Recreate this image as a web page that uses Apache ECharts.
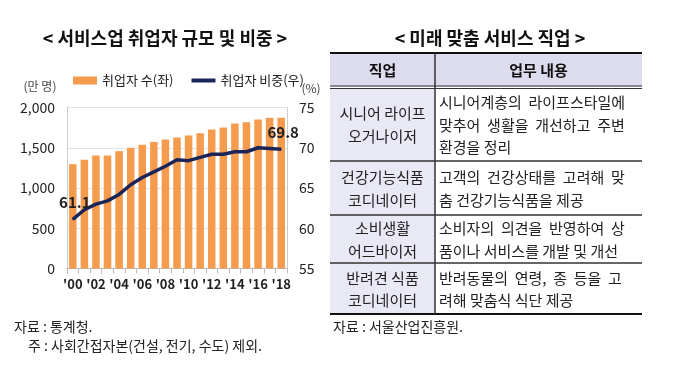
<!DOCTYPE html>
<html><head><meta charset="utf-8">
<script src="https://cdn.jsdelivr.net/npm/echarts@6/dist/echarts.min.js"></script>
<style>html,body{margin:0;padding:0;background:#fff}#c{width:680px;height:368px}</style>
</head><body><div id="c"></div>
<script>
const years = ["'00","'01","'02","'03","'04","'05","'06","'07","'08","'09","'10","'11","'12","'13","'14","'15","'16","'17","'18"];
const employed = [1296,1350,1404,1404,1458,1499,1536,1573,1602,1627,1652,1681,1727,1752,1801,1818,1851,1872,1872];
const share = [61.1,62.3,63.0,63.4,64.2,65.4,66.3,67.0,67.7,68.5,68.4,68.8,69.2,69.2,69.5,69.5,70.0,69.9,69.8];
const leftTicks = [0,500,1000,1500,2000];
const rightTicks = [55,60,65,70,75];

const tableHeader = ["직업","업무 내용"];
const tableJobs = [["시니어 라이프","오거나이저"],["건강기능식품","코디네이터"],["소비생활","어드바이저"],["반려견 식품","코디네이터"]];
const tableDesc = [["시니어계층의  라이프스타일에","맞추어  생활을  개선하고  주변","환경을 정리"],["고객의  건강상태를  고려해  맞","춤 건강기능식품을 제공"],["소비자의  의견을  반영하여  상","품이나 서비스를 개발 및 개선"],["반려동물의  연령,  종  등을  고","려해 맞춤식 식단 제공"]];

const F = '"Noto Sans CJK KR", "Noto Sans", sans-serif';
const chart = echarts.init(document.getElementById('c'));

const tx0 = 330, tx1 = 642, tdiv = 435;
const rowEdges = [53, 87, 161, 215, 263, 314];
const g = [];
g.push({type:'text', x:165, y:38, style:{text:'< 서비스업 취업자 규모 및 비중 >', font:'bold 18px '+F, fill:'#111', align:'center', verticalAlign:'middle'}});
g.push({type:'text', x:490, y:38, style:{text:'< 미래 맞춤 서비스 직업 >', font:'bold 18px '+F, fill:'#111', align:'center', verticalAlign:'middle'}});
g.push({type:'text', x:40, y:86, style:{text:'(만 명)', font:'12px '+F, fill:'#444', align:'center', verticalAlign:'middle'}});
g.push({type:'text', x:311, y:88, style:{text:'(%)', font:'12px '+F, fill:'#444', align:'center', verticalAlign:'middle'}});
g.push({type:'text', x:14, y:327, style:{text:'자료 : 통계청.', font:'14px '+F, fill:'#222', verticalAlign:'middle'}});
g.push({type:'text', x:28, y:346, style:{text:'주 : 사회간접자본(건설, 전기, 수도) 제외.', font:'14px '+F, fill:'#222', verticalAlign:'middle'}});
g.push({type:'text', x:333, y:327, style:{text:'자료 : 서울산업진흥원.', font:'14px '+F, fill:'#222', verticalAlign:'middle'}});
g.push({type:'rect', shape:{x:tx0, y:rowEdges[0], width:tx1-tx0, height:rowEdges[1]-rowEdges[0]}, style:{fill:'#dcdcee'}});
g.push({type:'rect', shape:{x:tx0, y:rowEdges[1]+2, width:tdiv-tx0, height:rowEdges[5]-rowEdges[1]-2}, style:{fill:'#e9e9f5'}});
g.push({type:'line', shape:{x1:tx0,y1:rowEdges[0],x2:tx1,y2:rowEdges[0]}, style:{stroke:'#111', lineWidth:2}});
g.push({type:'line', shape:{x1:tx0,y1:rowEdges[1]-1,x2:tx1,y2:rowEdges[1]-1}, style:{stroke:'#333', lineWidth:1}});
g.push({type:'line', shape:{x1:tx0,y1:rowEdges[1]+1.5,x2:tx1,y2:rowEdges[1]+1.5}, style:{stroke:'#333', lineWidth:1}});
for (let i=2;i<5;i++) g.push({type:'line', shape:{x1:tx0,y1:rowEdges[i],x2:tx1,y2:rowEdges[i]}, style:{stroke:'#333', lineWidth:1.5}});
g.push({type:'line', shape:{x1:tx0,y1:rowEdges[5],x2:tx1,y2:rowEdges[5]}, style:{stroke:'#111', lineWidth:2}});
g.push({type:'line', shape:{x1:tdiv,y1:rowEdges[0],x2:tdiv,y2:rowEdges[5]}, style:{stroke:'#333', lineWidth:1.5}});
g.push({type:'text', x:(tx0+tdiv)/2, y:(rowEdges[0]+rowEdges[1])/2, style:{text:tableHeader[0], font:'bold 15px '+F, fill:'#111', align:'center', verticalAlign:'middle'}});
g.push({type:'text', x:(tdiv+tx1)/2, y:(rowEdges[0]+rowEdges[1])/2, style:{text:tableHeader[1], font:'bold 15px '+F, fill:'#111', align:'center', verticalAlign:'middle'}});
const LH = 22.5;
for (let r=0;r<4;r++){
  const top = rowEdges[r+1]+2, bot = rowEdges[r+2];
  const mid = (top+bot)/2;
  const jobs = tableJobs[r];
  jobs.forEach((t,i)=>{
    g.push({type:'text', x:(tx0+tdiv)/2, y:mid + (i-(jobs.length-1)/2)*LH, style:{text:t, font:'15px '+F, fill:'#222', align:'center', verticalAlign:'middle'}});
  });
  const d = tableDesc[r];
  d.forEach((t,i)=>{
    g.push({type:'text', x:439, y:mid + (i-(d.length-1)/2)*LH, style:{text:t, font:'15px '+F, fill:'#222', align:'left', verticalAlign:'middle'}});
  });
}

const last = share.length-1;
const lineData = share.map((v,i)=>{
  if (i===0) return {value:v, label:{show:true, position:'top', offset:[2,-4]}};
  if (i===last) return {value:v, label:{show:true, position:'top', offset:[2,-4]}};
  return v;
});

chart.setOption({
  animation:false,
  textStyle:{fontFamily:F},
  legend:{
    top:69, left:68, itemGap:18, itemWidth:24, itemHeight:8,
    textStyle:{fontSize:13, color:'#222', fontFamily:F},
    data:[{name:'취업자 수(좌)', icon:'rect'},{name:'취업자 비중(우)', icon:'path://M0,0 L24,0 L24,4 L0,4 Z', itemStyle:{color:'#1b2558'}}]
  },
  grid:{left:67, right:393, top:107.5, bottom:99.5, show:false},
  xAxis:{type:'category', data:years,
    axisLine:{lineStyle:{color:'#bbb'}},
    axisTick:{show:true, interval:0, lineStyle:{color:'#bbb'}},
    axisLabel:{interval:1, fontSize:13, color:'#222', fontWeight:'bold', margin:9}},
  yAxis:[
    {type:'value', min:leftTicks[0], max:leftTicks[leftTicks.length-1], interval:500,
      axisLine:{show:true, lineStyle:{color:'#ccc'}}, axisTick:{show:false},
      splitLine:{lineStyle:{color:'#e3e3e3'}},
      axisLabel:{fontSize:14, color:'#222', margin:12, formatter:v=>v.toLocaleString('en-US')}},
    {type:'value', min:rightTicks[0], max:rightTicks[rightTicks.length-1], interval:5,
      axisLine:{show:true, lineStyle:{color:'#ccc'}}, axisTick:{show:false}, splitLine:{show:false},
      axisLabel:{fontSize:14, color:'#222', margin:12}}
  ],
  series:[
    {name:'취업자 수(좌)', type:'bar', data:employed, barWidth:7.5, itemStyle:{color:'#F59B4E'}},
    {name:'취업자 비중(우)', type:'line', yAxisIndex:1, data:lineData, symbol:'circle', symbolSize:1, showSymbol:true,
      lineStyle:{color:'#1b2558', width:3.5}, itemStyle:{color:'#1b2558'},
      label:{show:false, fontSize:15, fontWeight:'bold', color:'#222', formatter:p=>p.value.toFixed(1)}
    }
  ],
  graphic:g
});
</script></body></html>
